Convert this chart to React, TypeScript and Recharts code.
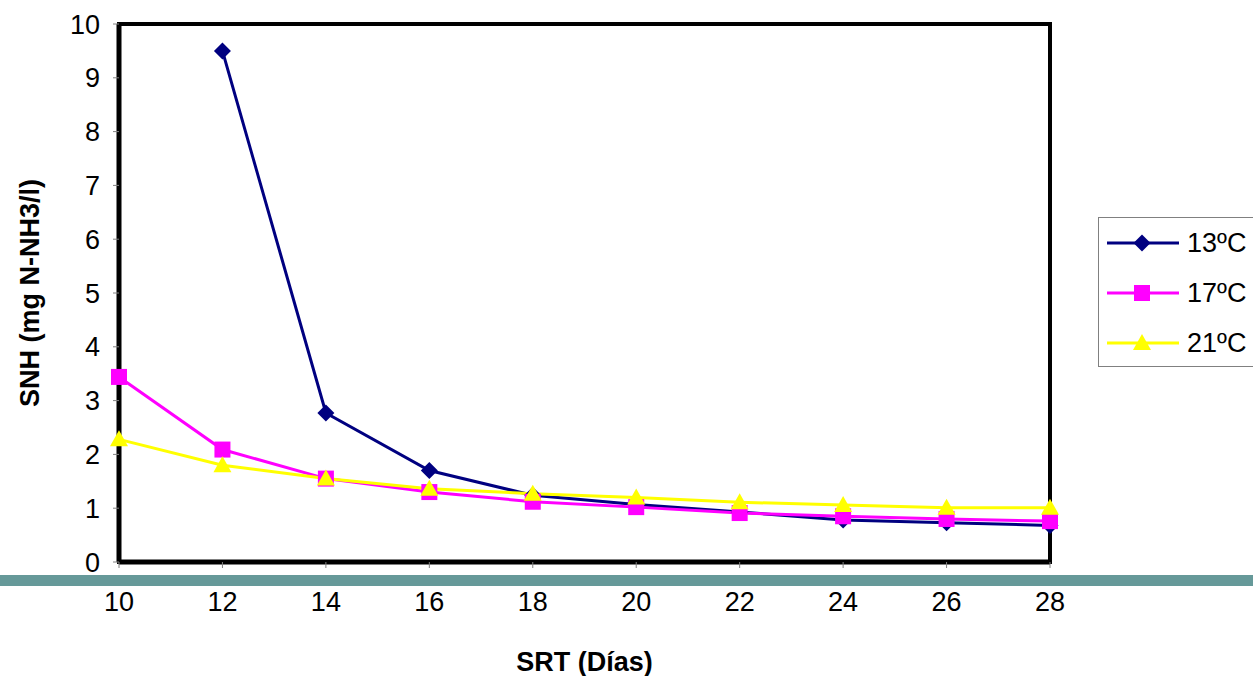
import { LineChart, Line, XAxis, YAxis, ReferenceArea } from 'recharts';

// SRT (days) on the x axis, ammonia (mg N-NH3/l) for three temperatures
const srtDays = [10, 12, 14, 16, 18, 20, 22, 24, 26, 28];
const snh13 = [null, 9.5, 2.77, 1.7, 1.24, 1.07, 0.93, 0.78, 0.73, 0.68];
const snh17 = [3.44, 2.09, 1.55, 1.3, 1.12, 1.02, 0.91, 0.85, 0.8, 0.76];
const snh21 = [2.28, 1.8, 1.55, 1.36, 1.27, 1.2, 1.11, 1.06, 1.01, 1.01];

const xTicks = [10, 12, 14, 16, 18, 20, 22, 24, 26, 28];
const yTicks = [0, 1, 2, 3, 4, 5, 6, 7, 8, 9, 10];

const series = [
  { key: 't13', name: '13ºC', color: '#000080', shape: 'diamond' },
  { key: 't17', name: '17ºC', color: '#FF00FF', shape: 'square' },
  { key: 't21', name: '21ºC', color: '#FFFF00', shape: 'triangle' },
];

const data = srtDays.map((d, i) => ({
  srt: d,
  t13: snh13[i],
  t17: snh17[i],
  t21: snh21[i],
}));

const FONT = '"Liberation Sans", Arial, sans-serif';

const Marker = ({ shape, cx, cy, color }: any) => {
  if (cx == null || cy == null) return null;
  if (shape === 'diamond') {
    const r = 8.5;
    return <polygon points={`${cx},${cy - r} ${cx + r},${cy} ${cx},${cy + r} ${cx - r},${cy}`} fill={color} />;
  }
  if (shape === 'square') {
    const h = 8;
    return <rect x={cx - h} y={cy - h} width={h * 2} height={h * 2} fill={color} />;
  }
  return <polygon points={`${cx},${cy - 9} ${cx + 9},${cy + 7} ${cx - 9},${cy + 7}`} fill={color} />;
};

const makeDot = (shape: string, color: string) => (props: any) => (
  <Marker key={`${shape}-${props.index}`} shape={shape} cx={props.cx} cy={props.cy} color={color} />
);

// legend box sits right of the plot and runs off the edge
const LegendBox = () => (
  <div
    style={{
      position: 'absolute',
      left: 1098,
      top: 217,
      width: 175,
      height: 150,
      border: '1px solid #808080',
      background: '#fff',
      boxSizing: 'border-box',
      fontFamily: FONT,
      fontSize: 27,
      color: '#000',
    }}
  >
    {series.map((s, i) => (
      <div key={s.key} style={{ position: 'absolute', left: 8, top: 25 + i * 50 - 15, height: 30, display: 'flex', alignItems: 'center' }}>
        <svg width={74} height={30}>
          <line x1={0} y1={15} x2={72} y2={15} stroke={s.color} strokeWidth={3} />
          <Marker shape={s.shape} cx={35} cy={15} color={s.color} />
        </svg>
        <span style={{ marginLeft: 6, whiteSpace: 'nowrap' }}>{s.name}</span>
      </div>
    ))}
  </div>
);

const YTitle = ({ viewBox }: any) => {
  const cx = 30;
  const cy = viewBox.y + viewBox.height / 2;
  return (
    <text x={cx} y={cy} transform={`rotate(-90 ${cx} ${cy})`} textAnchor="middle" dominantBaseline="central"
      fontFamily={FONT} fontWeight="bold" fontSize={27} fill="#000">
      SNH (mg N-NH3/l)
    </text>
  );
};

const XTitle = ({ viewBox }: any) => {
  const cx = viewBox.x + viewBox.width / 2;
  return (
    <text x={cx} y={662} textAnchor="middle" dominantBaseline="central"
      fontFamily={FONT} fontWeight="bold" fontSize={27} fill="#000">
      SRT (Días)
    </text>
  );
};

export default function App() {
  return (
    <div style={{ position: 'absolute', left: 0, top: 0, width: 1253, height: 676, overflow: 'hidden', background: '#fff' }}>
      <LineChart width={1253} height={676} data={data} margin={{ top: 24, right: 203, bottom: 0, left: 0 }}>
        <XAxis
          dataKey="srt"
          type="number"
          domain={[10, 28]}
          ticks={xTicks}
          height={114}
          axisLine={{ stroke: '#000', strokeWidth: 5 }}
          tickLine={{ stroke: '#808080' }}
          tickSize={6}
          tickMargin={24}
          tick={{ fill: '#000', fontSize: 27, fontFamily: FONT }}
          label={<XTitle />}
        />
        <YAxis
          type="number"
          domain={[0, 10]}
          ticks={yTicks}
          width={119}
          axisLine={{ stroke: '#000', strokeWidth: 5 }}
          tickLine={{ stroke: '#808080' }}
          tickSize={6}
          tickMargin={13}
          tick={{ fill: '#000', fontSize: 27, fontFamily: FONT }}
          label={<YTitle />}
        />
        <ReferenceArea x1={10} x2={28} y1={0} y2={10} fill="none" stroke="#000" strokeWidth={4} ifOverflow="visible" />
        {series.map((s) => (
          <Line
            key={s.key}
            type="linear"
            dataKey={s.key}
            name={s.name}
            stroke={s.color}
            strokeWidth={3}
            dot={makeDot(s.shape, s.color)}
            activeDot={false}
            connectNulls={false}
            isAnimationActive={false}
          />
        ))}
      </LineChart>
      <LegendBox />
      <div style={{ position: 'absolute', left: 0, top: 575, width: 1253, height: 11, background: '#669999' }} />
    </div>
  );
}
